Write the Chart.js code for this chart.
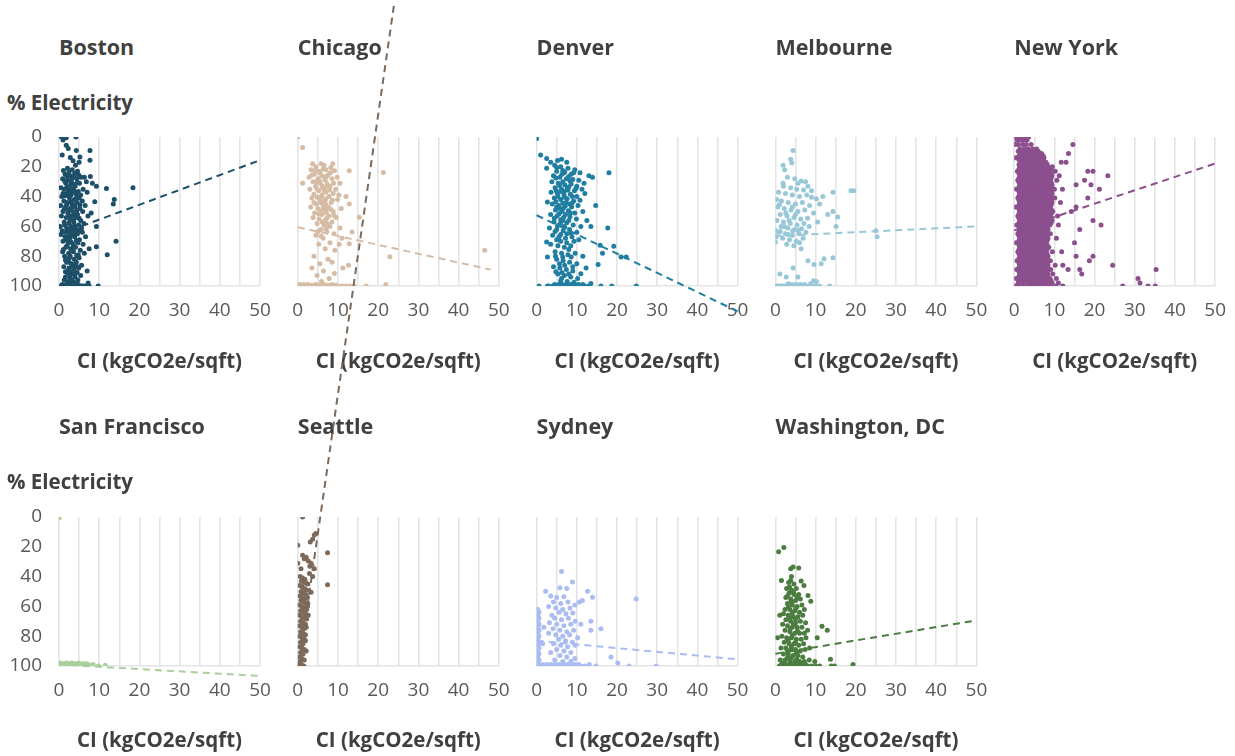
<!DOCTYPE html>
<html><head><meta charset="utf-8">
<script src="https://cdn.jsdelivr.net/npm/chart.js@4.4.1/dist/chart.umd.min.js"></script>
<style>
html,body{margin:0;padding:0;background:#fff;width:1235px;height:756px;overflow:hidden;}
#wrap{position:relative;width:1235px;height:756px;}
#wrap canvas{position:absolute;left:0;top:0;}
.lbl{position:absolute;font-family:'Open Sans',sans-serif;font-weight:700;color:#404040;white-space:nowrap;line-height:28px;height:28px;}
</style></head><body><div id="wrap"></div>
<script>
// ---------- DATA ----------
const cities = ['Boston','Chicago','Denver','Melbourne','New York','San Francisco','Seattle','Sydney','Washington, DC'];
const xTickLabels = [0,10,20,30,40,50];
const yTickLabels = [0,20,40,60,80,100];
const yTitle = '% Electricity';
const xTitle = 'CI (kgCO2e/sqft)';

// flat [x,y, x,y, ...] pairs
const bostonPts = [0.6,0, 1.8,0.5, 4.2,0, 1,2, 1.8,5.6, 2.3,7.8, 0.8,12, 2.8,13.8, 4.3,9, 5.2,13.4, 5,17, 7.7,9, 7.7,15.6, 3.5,16, 4.1,19,
 2.1,21, 3.3,22, 4.6,23, 1.5,25, 2.7,26, 3.9,24.5, 5.5,27, 0.9,28, 2.2,29, 3.1,30, 4.4,28, 6.3,27, 7.8,26.5, 1.7,31, 2.9,32, 4.0,33, 5.1,31, 6.8,30, 8.3,31, 9.3,33, 11.8,34.6, 18.4,34, 0.5,34, 1.3,35, 2.4,36, 3.6,35, 4.8,36.5, 6.0,35, 1.9,38, 3.0,39, 4.2,38, 5.4,39, 7.0,37, 0.7,40, 2.6,41, 3.8,42, 5.0,41,
 1.2,43, 2.0,44, 3.2,45, 4.5,44, 5.8,43, 8.9,43.5, 13.5,45, 13.75,42, 0.4,46, 1.6,47, 2.8,48, 4.0,47, 5.2,48, 6.5,46, 1.0,50, 2.2,51, 3.4,50, 4.6,52, 5.9,50, 8.0,51, 0.6,53, 1.8,54, 3.0,55, 4.2,54, 5.4,56, 7.2,53, 1.3,57, 2.5,58, 3.7,57, 4.9,59, 6.2,58, 0.3,60, 1.9,61, 3.1,60, 4.3,62, 5.6,61, 9.3,60,
 0.8,63, 2.2,64, 3.4,63, 4.6,65, 5.8,64, 0.5,65.5, 1.5,67, 2.7,68, 3.9,67, 5.1,69, 6.6,67, 1.0,70, 2.3,71, 3.5,72, 4.7,71, 6.0,72, 14.2,70, 9.3,73.6, 1.7,74, 2.9,75, 4.1,74, 5.3,76, 7.5,75, 0.9,77, 2.4,78, 3.6,77, 4.8,79, 6.3,78, 12,79, 1.4,80,
 2.6,81, 3.8,82, 5.0,81, 1.9,84, 3.1,85, 4.3,84, 5.6,86, 1.2,87, 2.5,88, 3.7,89, 4.9,88, 2.0,91, 3.3,92, 4.5,91, 1.6,94, 2.8,95, 4.0,94, 5.4,93, 7.0,90, 2.2,97, 3.5,97, 4.7,96,
 0.5,100, 1.0,100, 1.5,100, 2.0,100, 2.5,100, 3.0,100, 3.5,100, 4.0,100, 4.5,100, 5.0,100, 5.5,100, 6.0,100, 6.5,100, 7.0,100, 7.25,98, 7.5,100, 9.75,100, 0.8,99, 1.8,99, 2.8,99, 3.8,99, 4.8,99,
 1.1,22.5, 2.5,23.5, 3.7,26.5, 4.9,25.5, 1.4,29.5, 3.5,31.5, 4.6,30.5, 2.0,33.5, 3.3,37, 4.4,40.5, 1.5,39.5, 2.9,43.5, 3.9,45.5, 5.2,45.5, 2.4,49, 3.8,52.5, 5.0,54.5, 2.7,56, 4.0,59.5, 1.4,59, 2.6,62, 3.9,65.5, 5.0,62.5, 3.2,66, 1.9,69, 4.3,69.5, 3.0,70.5, 2.0,73, 3.4,76.5, 4.4,79.5, 2.8,80, 1.6,82.5, 3.5,87, 4.3,86.5, 2.3,89.5, 3.9,91.5, 2.7,93, 3.1,96, 4.2,98, 1.3,96,
 2.0,26.5, 3.3,27.5, 2.6,34, 3.9,36.5, 1.0,38, 2.2,39, 1.9,45.5, 3.3,47, 4.4,49.5, 1.3,48.5, 2.8,53, 3.6,55.5, 1.7,64, 2.9,65.5, 4.1,63.5, 2.2,67, 3.6,74, 1.1,75.5, 2.5,84, 4.0,85.5, 1.6,90.5, 2.8,90.5, 1.9,99, 3.3,99];

const chicagoPts = [0,0, 1.2,7, 3.7,18, 5.8,18, 8.7,18, 4.5,20, 6.5,19, 9.1,22.7, 12.8,22.7, 21.3,23.8, 3.3,22, 5.2,23, 7.0,22, 8.1,24, 4.1,25, 6.0,26, 7.5,25.5, 9.8,27, 2.8,27, 5.0,28, 6.8,29, 8.5,28, 3.8,30, 5.6,31, 7.3,31.5, 10.5,31, 1.2,31, 4.4,33, 6.2,34, 8.0,33, 9.4,35, 3.0,35, 5.2,36, 7.0,37, 8.8,38, 4.0,38.5, 6.0,39, 7.8,40, 12,40, 10.2,39, 3.5,41, 5.5,42, 6.7,43, 8.3,44, 9.9,42, 4.6,45, 6.3,46, 7.6,47, 12.8,45, 3.2,47, 5.0,48, 7.0,49, 8.8,50, 10.8,48, 4.2,51, 6.0,52, 7.8,53, 9.5,54, 5.3,55, 6.8,56, 8.5,57, 15.3,53.8, 4.8,58, 6.5,59, 8.0,60, 10.5,61, 5.8,62, 7.2,63.5, 13.5,63.8, 4.5,66, 9.0,65, 6.3,68, 11.0,68, 12.8,71.6, 5.2,72, 8.0,71, 10.3,72, 6.8,75, 9.2,76, 22.9,80.4, 46.5,76, 4.0,80, 7.5,82, 5.5,85, 8.5,84, 12.6,86, 11.2,88, 3.5,88, 6.4,90, 9.1,91.6, 4.8,93, 7.8,95, 5.9,97,
 0,100, 1,100, 2,100, 3,100, 4,100, 5,100, 6,100, 7,100, 8,100, 9,100, 10,100, 11,100, 12,100, 13,100, 14,100, 17,100, 21.9,99, 0.5,99, 1.5,99, 2.5,99, 3.5,99.5, 4.5,99, 5.5,99.5, 6.5,99, 7.5,99.5, 8.5,99, 9.5,99.5,
 5.5,24, 6.7,27.5, 4.7,30, 7.9,35.5, 5.8,40.5, 6.9,45, 5.9,49.5, 7.3,58, 5.0,63.5, 6.1,33, 7.1,51,
 4.3,22.5, 6.3,21.5, 8.2,20.5, 3.5,25.5, 7.1,26.5, 5.4,29.5, 8.9,31, 4.8,35, 7.2,33.5, 6.6,36, 4.8,40.5, 7.0,41.5, 8.6,42.5, 5.7,44, 4.0,44, 6.4,47.5, 8.2,48.5, 5.2,51.5, 7.2,54.5, 6.1,57, 9.0,52.5, 3.8,54, 7.0,61, 5.8,66.5];

const denverPts = [0,1, 1,12, 2.5,14.5, 3.5,17, 5.2,15.7, 6.2,15, 7.5,17, 2.5,21, 18,24, 13,26, 13.9,27, 11.8,31, 14.7,46, 17.7,61, 13.5,60, 11,60, 2.7,43.6, 2.5,70.5, 15.8,72.7, 19.2,73.4, 16.4,78, 21,80.5, 22.3,80.5, 15.3,85.5, 12.3,88, 11,91.7, 13.5,98.4, 16,100, 18.7,100, 24.8,100, 2.7,80.5, 0.6,100, 2.7,100,
 4.5,19, 6.0,20, 7.8,21, 9.5,22, 5.0,23, 6.8,24, 8.6,25, 10.8,24, 4.2,26, 5.8,27, 7.4,28, 9.0,28.5, 10.5,29, 3.8,30, 5.4,31, 7.0,32, 8.6,31.5, 10.0,33, 4.6,34, 6.2,35, 7.8,35.5, 9.4,36, 11.3,35, 3.6,37, 5.2,38, 6.8,39, 8.4,38.5, 10.0,40, 12,38, 4.4,41, 6.0,42, 7.6,41.5, 9.2,43, 10.8,42.5,
 3.9,45, 5.5,46, 7.1,46.5, 8.7,47, 10.3,46, 4.7,49, 6.3,50, 7.9,49.5, 9.5,51, 11.5,50, 3.5,52, 5.1,53, 6.7,54, 8.3,53.5, 9.9,55, 4.3,57, 5.9,58, 7.5,57.5, 9.1,59, 12.5,56, 3.2,61, 5.0,62, 6.6,63, 8.2,62, 10.0,64,
 4.0,66, 5.6,67, 7.2,68, 8.8,67, 10.5,69, 3.5,72, 5.3,73, 6.9,74, 8.5,73, 4.6,77, 6.2,78, 7.8,79, 9.6,78, 11.5,80, 5.0,82, 6.6,83, 8.2,84, 10.0,85, 4.2,87, 5.8,88, 7.4,89, 9.0,90, 5.3,92, 6.9,93, 8.5,94, 10.2,95, 6.0,96.5, 7.6,97, 9.3,97.5,
 3,100, 4,100, 5,100, 6,100, 7,100, 8,100, 9,100, 10,100, 11,100, 12,100, 13,100, 4.5,99, 5.5,99, 6.5,99, 7.5,99, 8.5,99, 9.5,99, 10.5,99, 11.5,99,
 6.5,22.5, 8.0,26.5, 6.5,30, 8.0,33.5, 6.0,36.5, 7.3,44, 5.8,48, 8.8,44.5, 6.5,56, 7.0,60.5, 7.5,65, 6.0,70, 7.5,71, 6.5,80.5, 7.0,86, 6.3,91,
 5.0,20.5, 7.0,23.5, 9.2,24, 4.8,27.5, 6.3,25, 8.3,29.5, 5.7,32.5, 7.6,34, 9.8,34.5, 4.9,36, 6.9,36.5, 8.9,40, 5.3,40, 7.0,40.5, 4.8,43.5, 6.5,44.5, 8.2,45, 5.0,47, 6.6,48, 8.4,51, 5.6,51.5, 7.2,52, 4.4,54.5, 6.0,55.5, 8.0,56, 5.2,59.5, 6.8,60, 8.5,64.5, 4.6,63.5, 6.0,65.5, 9.3,70, 5.0,69, 8.0,75.5, 4.7,80, 8.6,80.5, 5.7,85, 9.0,87, 6.2,95, 8.0,92, 4.8,90.5];

const melbournePts = [4.4,9, 3.8,15, 4.1,17.5, 1.9,19, 2.3,22, 6.4,29.5, 5.6,31, 8.1,33, 1.9,31, 18.8,36, 19.5,36, 14.3,37, 11.8,40, 10.2,41.4, 14.3,50, 15.5,53.7, 15.1,60, 25,63, 25.3,67, 6.4,75, 8.1,83, 9.6,85.5, 11.4,85, 12.1,81.7, 14.3,81, 4.4,88, 1.1,92, 2.7,94, 5.6,94, 10.2,97, 13.5,100, 0,100, 0,62.6, 0,70.5,
 3.0,27, 4.8,28, 7.5,30, 2.0,33, 3.8,34, 5.3,35, 7.0,35.5, 9.0,36, 0.8,37, 2.5,38, 4.2,39, 6.0,40, 7.8,39, 9.0,40.5, 0.3,42, 1.5,43, 3.2,44, 5.0,45, 6.7,44, 8.5,46, 11,45, 0.6,47, 2.2,48, 3.9,49, 5.6,50, 7.3,49, 9.5,51, 13,52, 1.2,52, 2.9,53, 4.6,54, 6.3,55, 8.0,54.5, 0.4,56, 2.0,57, 3.7,58, 5.4,59, 7.1,58, 10.5,57, 1.4,60, 3.1,61, 4.8,62, 6.5,61.5, 8.4,60, 0.8,64, 2.5,65, 4.2,66, 5.9,65, 7.6,64, 0.2,67, 1.8,68, 3.5,69, 5.2,70, 6.9,68, 2.8,72, 4.6,73, 6.0,71,
 0.5,100, 1,100, 1.5,100, 2,100, 2.5,100, 3,100, 3.5,100, 4,100, 4.5,100, 5,100, 5.5,100, 6,100, 6.5,100, 7,100, 7.5,100, 8,100, 8.5,100, 9,100, 10,100, 11,100, 4.2,99, 5.2,99, 6.2,99, 7.2,99, 8.8,98.5, 9.5,96.5, 3.2,98.5,
 1.0,45.5, 4.2,47, 2.6,51, 5.0,52, 3.4,56, 2.2,60, 5.7,62.5, 1.2,63.5, 3.2,65.5, 4.3,63];

// New York: rows of [y, x1, x2, ...]
const newYorkRows = [
 [0, 0.3,1.2,2.0,2.8,3.6],
 [2, 0.7,1.6,2.4,3.2],
 [5, 0.2,1.0,2.1,3.0,4.2,14.6],
 [8, 1.4,2.5,3.5,4.6,5.6],
 [9.5, 1.0,2.0,3.0,4.0,5.0,6.0],
 [11, 1.8,2.9,3.9,4.9,5.9,6.8,13.5],
 [12.5, 1.2,2.2,3.2,4.2,5.2,6.2,7.2],
 [14, 0.4,1.5,2.5,3.5,4.5,5.5,6.5,7.4],
 [15.5, 1.2,2.2,3.2,4.2,5.2,6.2,7.2],
 [17, 1.9,2.9,3.9,4.9,5.9,6.9,7.9,11.7,12.9],
 [18.5, 1.2,2.2,3.2,4.2,5.2,6.2,7.2,8.2],
 [20, 1.4,2.4,3.4,4.4,5.4,6.4,7.4,8.4,9.5],
 [21.5, 1.2,2.2,3.2,4.2,5.2,6.2,7.2,8.2,9.2],
 [23, 0.8,1.9,2.9,3.9,4.9,5.9,6.9,7.9,8.9,10.2,18.3,19.6],
 [24.5, 1.2,2.2,3.2,4.2,5.2,6.2,7.2,8.2,9.2],
 [26, 1.4,2.4,3.4,4.4,5.4,6.4,7.4,8.4,9.4,11.2,23.3],
 [27.5, 1.2,2.2,3.2,4.2,5.2,6.2,7.2,8.2,9.2],
 [29, 0.9,1.9,2.9,3.9,4.9,5.9,6.9,7.9,8.9,10.6,17.5],
 [30.5, 1.2,2.2,3.2,4.2,5.2,6.2,7.2,8.2,9.2],
 [32, 1.4,2.4,3.4,4.4,5.4,6.4,7.4,8.4,9.4,15.4,19.1],
 [33.5, 1.2,2.2,3.2,4.2,5.2,6.2,7.2,8.2,9.2],
 [35, 0.5,1.9,2.9,3.9,4.9,5.9,6.9,7.9,8.9,10.0,12.0,21.2],
 [36.5, 1.2,2.2,3.2,4.2,5.2,6.2,7.2,8.2,9.2],
 [38, 1.4,2.4,3.4,4.4,5.4,6.4,7.4,8.4,9.4],
 [39.5, 1.2,2.2,3.2,4.2,5.2,6.2,7.2,8.2,9.2],
 [41, 0.9,1.9,2.9,3.9,4.9,5.9,6.9,7.9,8.9,10.1,18.3],
 [42.5, 1.2,2.2,3.2,4.2,5.2,6.2,7.2,8.2,9.2],
 [44, 1.4,2.4,3.4,4.4,5.4,6.4,7.4,8.4,9.4,11.5],
 [45.5, 1.2,2.2,3.2,4.2,5.2,6.2,7.2,8.2,9.2],
 [47, 0.4,1.9,2.9,3.9,4.9,5.9,6.9,7.9,8.9,15.4],
 [48.5, 1.2,2.2,3.2,4.2,5.2,6.2,7.2,8.2,9.2],
 [50, 1.4,2.4,3.4,4.4,5.4,6.4,7.4,8.4,9.6,14.2],
 [51.5, 1.2,2.2,3.2,4.2,5.2,6.2,7.2,8.2,9.2],
 [53, 0.9,1.9,2.9,3.9,4.9,5.9,6.9,7.9,8.9,10.8],
 [54.5, 1.2,2.2,3.2,4.2,5.2,6.2,7.2,8.2,9.2],
 [56, 1.4,2.4,3.4,4.4,5.4,6.4,7.4,8.4,9.4,19.6],
 [57.5, 1.2,2.2,3.2,4.2,5.2,6.2,7.2,8.2,9.2],
 [59, 0.6,1.9,2.9,3.9,4.9,5.9,6.9,7.9,8.9,11.0,21.6],
 [60.5, 1.2,2.2,3.2,4.2,5.2,6.2,7.2,8.2],
 [62, 1.4,2.4,3.4,4.4,5.4,6.4,7.4,8.4,16.3],
 [63.5, 1.2,2.2,3.2,4.2,5.2,6.2,7.2,8.2],
 [65, 0.9,1.9,2.9,3.9,4.9,5.9,6.9,7.9,9.0],
 [66.5, 1.2,2.2,3.2,4.2,5.2,6.2,7.2,8.2],
 [68, 1.4,2.4,3.4,4.4,5.4,6.4,7.4,8.4,10.5],
 [69.5, 1.2,2.2,3.2,4.2,5.2,6.2,7.2,8.2],
 [71, 0.5,1.9,2.9,3.9,4.9,5.9,6.9,7.9,15.0],
 [72.5, 1.2,2.2,3.2,4.2,5.2,6.2,7.2,8.2],
 [74, 1.4,2.4,3.4,4.4,5.4,6.4,7.4,8.6],
 [75.5, 1.2,2.2,3.2,4.2,5.2,6.2,7.2,8.2],
 [77, 0.9,1.9,2.9,3.9,4.9,5.9,6.9,7.9,9.5,11.8],
 [78.5, 1.2,2.2,3.2,4.2,5.2,6.2,7.2,8.2],
 [80, 1.4,2.4,3.4,4.4,5.4,6.4,7.4,8.4,15.4,19.6],
 [81.5, 1.2,2.2,3.2,4.2,5.2,6.2,7.2,8.2],
 [83, 0.7,1.9,2.9,3.9,4.9,5.9,6.9,7.9,9.0,18.7],
 [84.5, 1.2,2.2,3.2,4.2,5.2,6.2,7.2,8.2],
 [86, 1.4,2.4,3.4,4.4,5.4,6.4,7.4,8.4,10.2,12.1,24.5],
 [87.5, 1.2,2.2,3.2,4.2,5.2,6.2,7.2,8.2],
 [89, 0.6,1.9,2.9,3.9,4.9,5.9,6.9,7.9,9.1,13.4,16.3,35.3],
 [90.5, 1.2,2.2,3.2,4.2,5.2,6.2,7.2,8.2],
 [92, 1.4,2.4,3.4,4.4,5.4,6.4,7.4,8.4,9.6,16.8],
 [93.5, 1.2,2.2,3.2,4.2,5.2,6.2,7.2,8.2],
 [95, 0.5,1.9,2.9,3.9,4.9,5.9,6.9,7.9,8.9,10.5,30.8],
 [96.5, 1.2,2.2,3.2,4.2,5.2,6.2,7.2,8.2,9.2],
 [98, 1.0,2.2,3.4,4.4,5.4,6.4,7.4,8.4,9.4,11.0,31.3],
 [100, 0.3,1.3,2.3,3.3,4.3,5.3,6.3,7.3,8.3,9.3,10.3,12.1,27.0,33.3,35.1]
];

const sanFranciscoPts = [0,0.5, 0,99, 0.5,100, 1,98.5, 1.5,99.5, 2,100, 2.5,98.5, 3,99.5, 3.5,100, 4,98.5, 4.5,99.5, 5,100, 5.5,98.5, 6,99.5, 6.5,100, 7,98.5, 7.5,99.5, 8,100, 0.3,98, 1.2,100, 2.2,99, 3.2,98, 4.2,100, 5.2,99, 6.2,98.5, 7.2,100, 8.5,99, 9.8,100, 11.5,99.5, 0.8,99, 1.8,98, 2.8,100, 3.8,99, 4.8,98, 5.8,100, 6.8,99];

const seattlePts = [1.2,0, 4.1,12, 4.5,11, 3.7,15, 3.1,16.7, 0,19, 7.4,24, 1.2,25.7, 2.1,27, 3.3,31, 0,31, 0.8,34.7, 4.1,34.7, 2.9,38, 3.7,40, 7.4,45.5, 2.5,45, 3.3,50.5, 2.5,58, 2.1,74, 1.9,83, 2.1,90, 1.6,28, 2.6,29.5, 3.0,33,
 0.6,40, 1.2,41, 1.8,42, 0.9,43, 1.5,44, 2.1,44.5, 0.5,46, 1.1,47, 1.7,48, 2.2,49, 0.8,50, 1.4,51, 2.0,52, 0.5,53, 1.1,54, 1.7,55, 2.4,54, 0.8,56, 1.4,57, 2.0,58, 0.4,59, 1.0,60, 1.6,61, 2.2,62, 0.7,63, 1.3,64, 1.9,65, 0.4,66, 1.0,67, 1.6,68, 2.2,68.5, 0.7,70, 1.3,71, 1.9,72, 0.4,73, 1.0,74, 1.6,75, 0.7,77, 1.3,78, 1.9,79, 0.4,80, 1.0,81, 1.6,82, 0.7,84, 1.3,85, 0.4,87, 1.0,88, 1.6,89, 0.7,91, 1.3,92, 0.4,94, 1.0,95, 1.6,96, 0.3,98, 0.9,99, 1.5,100, 0.2,100, 0.6,97, 2.4,60, 2.6,66];

const sydneyPts = [6.2,36.5, 8.9,43.7, 2.25,49.8, 5.8,47.5, 7.5,48, 12.7,49.8, 13.9,53.8, 11.4,56, 10.6,57, 24.75,55, 16,75, 13.5,70, 13.5,76, 11,72, 18.5,94, 20.2,98, 23,100, 29.75,100, 14.75,100, 13.1,99,
 0.3,62, 0.6,64, 0.3,66, 0.6,68, 0.3,70, 0.6,72, 0.3,74, 0.6,76, 0.3,78, 0.6,80, 0.3,82, 0.6,84, 0.3,86, 0.6,88, 0.3,90, 0.6,92, 0.3,94, 0.6,96, 0.3,98, 0.6,100, 0,100, 1.8,74, 1.5,85,
 3.5,53, 5.0,54, 6.8,53.5, 4.2,57, 6.0,58, 7.8,57, 9.5,59, 3.0,60, 4.8,61, 6.5,62, 8.3,61, 5.6,64, 7.3,65, 9.0,64.5, 3.8,66, 4.5,68, 6.2,69, 7.9,68, 9.6,70, 3.2,71, 5.0,72, 6.8,73, 8.5,72, 4.1,75, 5.8,76, 7.5,77, 9.2,76, 3.0,78, 4.8,79, 6.5,80, 8.2,79, 10.2,81, 5.5,82, 7.2,83, 8.9,84, 4.2,85, 6.0,86, 7.7,87, 9.6,86, 5.0,89, 6.8,90, 8.5,91, 3.5,91, 5.8,93, 7.5,94, 9.5,95, 4.5,96, 6.5,97, 8.5,97,
 1,100, 2,100, 3,100, 4,100, 5,100, 6,100, 7,100, 8,100, 9,100, 10,100, 11,100, 12,100, 1.5,99, 2.5,99, 3.5,99, 4.5,99, 5.5,99, 6.5,99, 7.5,99, 8.5,99, 9.5,99, 10.5,99];

const washingtonPts = [0.8,23.4, 2.1,20.5, 3.8,34.7, 4.4,33.6, 5.8,34.2, 1.5,42.6, 3.8,42.6, 6.4,43, 7.1,46, 8.1,52.7, 8.8,56.5, 1.1,66, 11.6,73.4, 12.9,76, 0.5,81, 10.4,81, 13.7,95.5, 13.9,100, 14.7,100, 19.3,99, 9.8,97,
 4.0,40, 3.3,44, 4.6,45, 2.8,48, 4.0,49, 5.2,48, 3.4,51, 4.6,52, 5.8,52, 2.6,54, 3.8,55, 5.0,56, 6.2,55, 3.0,58, 4.2,59, 5.4,60, 6.6,59, 2.4,62, 3.6,62, 4.8,63, 6.0,64, 7.2,62, 2.0,65, 3.2,66, 4.4,67, 5.6,67, 6.8,66, 2.6,69, 3.8,70, 5.0,71, 6.2,70, 7.5,71, 1.8,72, 3.0,73, 4.2,74, 5.4,74, 6.6,74, 8.0,76, 2.4,76, 3.6,77, 4.8,78, 6.0,78, 7.2,78, 1.6,80, 2.8,81, 4.0,81, 5.2,82, 6.4,82, 7.6,81, 2.2,84, 3.4,85, 4.6,85, 5.8,86, 7.0,85, 1.4,88, 2.6,88, 3.8,89, 5.0,89, 6.2,90, 7.4,89, 8.5,88, 2.0,92, 3.2,92, 4.4,93, 5.6,93, 6.8,94, 1.2,96, 2.4,96, 3.6,97, 4.8,97, 6.0,97, 7.2,97, 8.4,96,
 1,100, 2,100, 3,100, 4,100, 5,100, 6,100, 7,100, 8,100, 9,100, 10,100, 11,100, 1.5,99, 2.5,99, 3.5,99, 4.5,99, 5.5,99, 6.5,99, 7.5,99,
 3.5,47, 4.5,50.5, 3.0,53, 5.4,54, 4.0,57, 3.2,60.5, 5.1,61, 4.2,64.5, 5.0,68.5, 3.5,68, 4.5,72, 3.7,75, 5.5,76.5, 4.2,79.5, 3.2,83, 5.0,84, 4.0,87, 3.0,90, 5.2,91, 4.0,94.5, 5.3,95.5, 3.0,94.5, 2.2,98];

// trendline end points [x0,y0, x1,y1]
const trendLines = [
 [0,65.4, 50,15.6],
 [0,60.5, 48,89],
 [0,52.5, 50,117],
 [0,66.5, 50,60],
 [0,62.7, 50,17.8],
 [0,99, 50,106.7],
 [0.25,100, 24,-345],
 [0,83, 50,95.5],
 [0,91.8, 50,69.4]
];

const colors = ['#1d4f68','#d6bca4','#1f7ea1','#98c8d8','#8c4f8e','#a8d09b','#7c6959','#aabcf2','#4b7d40'];

// ---------- BUILD ----------
const pairs = a => { const o = []; for (let i = 0; i < a.length; i += 2) o.push({x: a[i], y: a[i + 1]}); return o; };
const newYorkPts = [];
newYorkRows.forEach(r => { for (let i = 1; i < r.length; i++) newYorkPts.push(r[i], r[0]); });
const seriesPts = [bostonPts, chicagoPts, denverPts, melbournePts, newYorkPts, sanFranciscoPts, seattlePts, sydneyPts, washingtonPts];

const W = 1235, H = 756;
const colLeft = [59, 297.8, 536.6, 775.4, 1014.2];
const plotW = 201, plotH = 149;
const rowTop = [137, 517];
const titleY = [47, 426];
const yTitleY = [102, 481];
const xTitleY = [362, 741];
const yAxisW = 50;
const FONT = "'Open Sans', sans-serif";

const wrap = document.getElementById('wrap');
function addLabel(text, left, cy, size) {
  const d = document.createElement('div');
  d.className = 'lbl';
  d.textContent = text;
  d.style.left = left + 'px';
  d.style.top = (cy - 14) + 'px';
  d.style.fontSize = size + 'px';
  wrap.appendChild(d);
}

cities.forEach((city, i) => {
  const row = i < 5 ? 0 : 1;
  const col = i < 5 ? i : i - 5;
  const L = colLeft[col], T = rowTop[row];
  const titleFont = 20.5, titleLH = titleFont * 1.2;
  const xH = xTitleY[row] - (T + plotH) + titleLH / 2;
  addLabel(city, L, titleY[row], 21.5);
  if (col === 0) addLabel(yTitle, 7, yTitleY[row], 20.5);

  const cv = document.createElement('canvas');
  cv.width = W; cv.height = H;
  cv.style.width = W + 'px'; cv.style.height = H + 'px';
  wrap.appendChild(cv);
  const t = trendLines[i];
  new Chart(cv, {
    type: 'scatter',
    data: {
      datasets: [
        {
          type: 'line',
          data: [{x: t[0], y: t[1]}, {x: t[2], y: t[3]}],
          borderColor: colors[i],
          borderWidth: 2,
          borderDash: [7, 5],
          pointRadius: 0,
          fill: false,
          clip: false,
          order: 0
        },
        {
          type: 'scatter',
          data: pairs(seriesPts[i]),
          backgroundColor: colors[i],
          borderWidth: 0,
          pointRadius: 2.5,
          order: 1
        }
      ]
    },
    options: {
      responsive: false,
      animation: false,
      events: [],
      layout: {
        autoPadding: false,
        padding: {left: L - yAxisW, top: T, right: W - L - plotW, bottom: H - T - plotH - xH}
      },
      plugins: {legend: {display: false}, tooltip: {enabled: false}, title: {display: false}},
      scales: {
        x: {
          type: 'linear', position: 'bottom', min: 0, max: 50,
          afterFit: s => { s.height = xH; s.paddingLeft = 0; s.paddingRight = 0; },
          ticks: {
            stepSize: 5, autoSkip: false, maxRotation: 0, padding: 13,
            color: '#595959', font: {family: FONT, size: 19},
            callback: v => (xTickLabels.includes(v) ? String(v) : '')
          },
          grid: {color: '#e4e4e4', lineWidth: 1.6, drawTicks: false},
          border: {display: true, color: '#e4e4e4', width: 1.6},
          title: {display: true, text: xTitle, color: '#404040', padding: 0,
                  font: {family: FONT, size: titleFont, weight: 'bold', lineHeight: 1.2}}
        },
        y: {
          type: 'linear', position: 'left', min: 0, max: 100, reverse: true,
          afterFit: s => { s.width = yAxisW; s.paddingTop = 0; s.paddingBottom = 0; },
          ticks: {
            display: col === 0, stepSize: 20, padding: 17,
            color: '#595959', font: {family: FONT, size: 19},
            callback: v => (yTickLabels.includes(v) ? String(v) : '')
          },
          grid: {display: false, drawTicks: false},
          border: {display: false}
        }
      }
    }
  });
});
</script>
</body></html>
